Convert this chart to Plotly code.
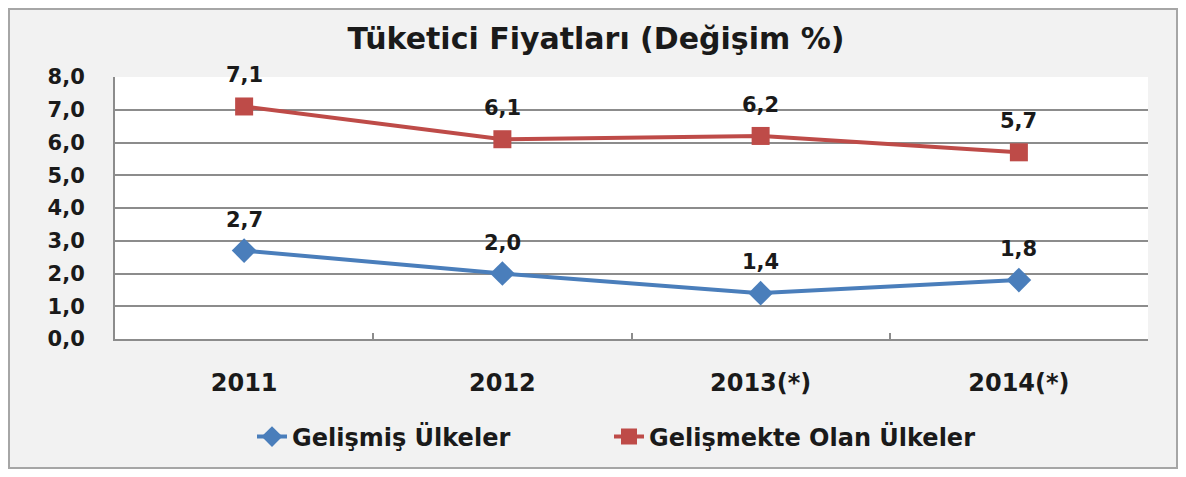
import plotly.graph_objects as go

categories = ["2011", "2012", "2013(*)", "2014(*)"]
gelismis = [2.7, 2.0, 1.4, 1.8]
gelismekte = [7.1, 6.1, 6.2, 5.7]
series_names = ["Gelişmiş Ülkeler", "Gelişmekte Olan Ülkeler"]
y_ticks = [0, 1, 2, 3, 4, 5, 6, 7, 8]

BLUE = "#4a7ebb"
RED = "#be4b48"
FONT = "DejaVu Sans"
TXT = "#1a1a1a"

# page body adds an 8px margin; figure coords = screen coords - 8
W, H = 1170, 461
L, R, T, B = 107, 30, 69, 130
PW, PH = W - L - R, H - T - B


def px(fx):
    return (fx - L) / PW


def py(fy):
    return (H - B - fy) / PH


fig = go.Figure()
fig.add_trace(go.Scatter(
    x=categories, y=gelismis, name=series_names[0], mode="lines+markers",
    line=dict(color=BLUE, width=4),
    marker=dict(symbol="diamond", size=19, color=BLUE),
    cliponaxis=False, legendwidth=312,
))
fig.add_trace(go.Scatter(
    x=categories, y=gelismekte, name=series_names[1], mode="lines+markers",
    line=dict(color=RED, width=4),
    marker=dict(symbol="square", size=18, color=RED),
    cliponaxis=False,
))

annotations = []
for vals in (gelismis, gelismekte):
    for i, v in enumerate(vals):
        annotations.append(dict(
            x=i, y=v, xref="x", yref="y", text=f"{v:.1f}".replace(".", ","),
            showarrow=False, yshift=31,
            font=dict(family=FONT, size=21, color=TXT, weight="bold"),
        ))

fig.update_layout(
    width=W, height=H,
    margin=dict(l=L, r=R, t=T, b=B),
    paper_bgcolor="#f2f2f2",
    plot_bgcolor="white",
    separators=",.",
    title=dict(text="<b>Tüketici Fiyatları (Değişim %)</b>", x=588 / W, xref="container",
               xanchor="center", y=1 - 30 / H, yref="container", yanchor="middle",
               font=dict(family=FONT, size=30, color=TXT)),
    showlegend=True,
    legend=dict(orientation="h", x=244 / W, xanchor="left", xref="container",
                y=1 - 429 / H, yref="container", yanchor="middle",
                font=dict(family=FONT, size=24, color=TXT, weight="bold"),
                bgcolor="rgba(0,0,0,0)"),
    annotations=annotations,
    shapes=[
        dict(type="rect", xref="paper", yref="paper",
             x0=px(1), x1=px(W - 1), y0=py(H - 1), y1=py(1),
             fillcolor="rgba(0,0,0,0)", line=dict(color="#a6a6a6", width=2)),
    ],
)
fig.update_xaxes(
    type="category", showgrid=False, showline=True, linecolor="#8c8c8c", linewidth=2,
    ticks="inside", tickson="boundaries", ticklen=6, tickcolor="#8c8c8c", tickwidth=1.5,
    ticklabelstandoff=21,
    tickfont=dict(family=FONT, size=24, color=TXT, weight="bold"),
    range=[-0.5, 3.5], zeroline=False,
)
fig.update_yaxes(
    range=[0, 8], tickvals=y_ticks, tickformat=".1f", showgrid=True,
    gridcolor="#8c8c8c", gridwidth=1.5, showline=True, linecolor="#8c8c8c", linewidth=2,
    ticks="", ticklabelstandoff=24, zeroline=False,
    tickfont=dict(family=FONT, size=21, color=TXT, weight="bold"),
)

fig.write_html("out.html")
